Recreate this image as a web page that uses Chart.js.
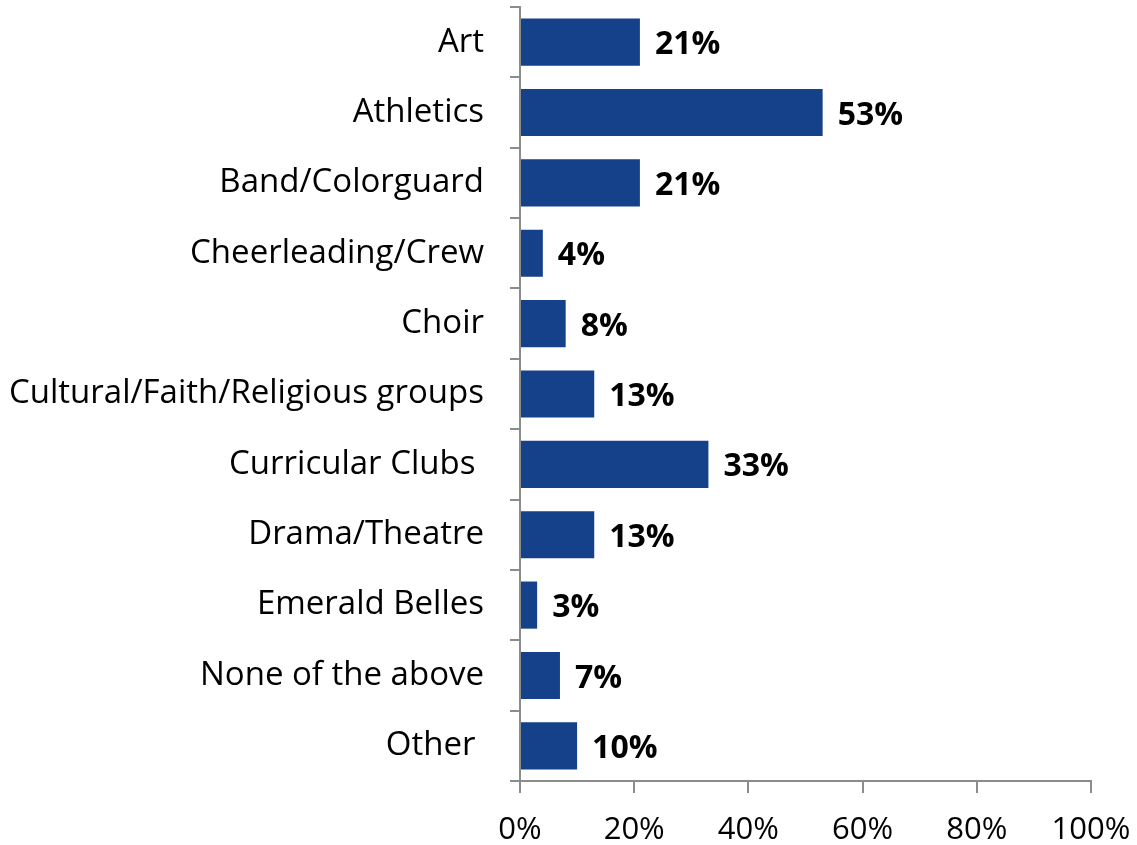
<!DOCTYPE html>
<html>
<head>
<meta charset="utf-8">
<script src="https://cdn.jsdelivr.net/npm/chart.js@4.4.0/dist/chart.umd.min.js"></script>
<style>
  html, body { margin: 0; padding: 0; background: #fff; }
  #wrap { width: 1137px; height: 845px; }
</style>
</head>
<body>
<div id="wrap"><canvas id="activitiesChart" width="1137" height="845"></canvas></div>
<script>
const categories = [
  'Art',
  'Athletics',
  'Band/Colorguard',
  'Cheerleading/Crew',
  'Choir',
  'Cultural/Faith/Religious groups',
  'Curricular Clubs ',
  'Drama/Theatre',
  'Emerald Belles',
  'None of the above',
  'Other '
];
const percentValues = [21, 53, 21, 4, 8, 13, 33, 13, 3, 7, 10];
const xTicks = [0, 20, 40, 60, 80, 100];

const FONT = "'Open Sans', 'Liberation Sans', sans-serif";

// value labels at the end of each bar
const barLabels = {
  id: 'barLabels',
  afterDatasetsDraw(chart) {
    const ctx = chart.ctx;
    const meta = chart.getDatasetMeta(0);
    ctx.save();
    ctx.font = "bold 32px " + FONT;
    ctx.fillStyle = '#000';
    ctx.textAlign = 'left';
    ctx.textBaseline = 'middle';
    meta.data.forEach((bar, i) => {
      ctx.fillText(percentValues[i] + '%', bar.x + 15, bar.y + 3);
    });
    ctx.restore();
  }
};

new Chart(document.getElementById('activitiesChart').getContext('2d'), {
  type: 'bar',
  data: {
    labels: categories,
    datasets: [{
      data: percentValues,
      backgroundColor: '#15418A',
      borderWidth: 0,
      categoryPercentage: 1,
      barPercentage: 0.67
    }]
  },
  options: {
    indexAxis: 'y',
    responsive: false,
    animation: false,
    layout: { padding: { top: 7, right: 46, bottom: 0, left: 0 } },
    plugins: {
      legend: { display: false },
      tooltip: { enabled: false }
    },
    scales: {
      x: {
        min: 0,
        max: 100,
        afterBuildTicks(axis) {
          axis.ticks = xTicks.map(v => ({ value: v }));
        },
        afterFit(axis) {
          axis.height = 64;
          axis.paddingLeft = 0;
          axis.paddingRight = 0;
        },
        grid: {
          drawOnChartArea: false,
          tickLength: 12,
          color: '#8c8c8c',
          lineWidth: 2
        },
        border: { color: '#8c8c8c', width: 2 },
        ticks: {
          padding: 19,
          color: '#000',
          font: { family: FONT, size: 31 },
          callback: v => v + '%'
        }
      },
      y: {
        afterFit(axis) {
          axis.width = 520;
          axis.paddingTop = 0;
          axis.paddingBottom = 0;
        },
        grid: {
          offset: true,
          drawOnChartArea: false,
          tickLength: 10,
          color: '#8c8c8c',
          lineWidth: 2
        },
        border: { color: '#8c8c8c', width: 2 },
        ticks: {
          padding: 26,
          color: '#000',
          font: { family: FONT, size: 33 }
        }
      }
    }
  },
  plugins: [barLabels]
});
</script>
</body>
</html>
